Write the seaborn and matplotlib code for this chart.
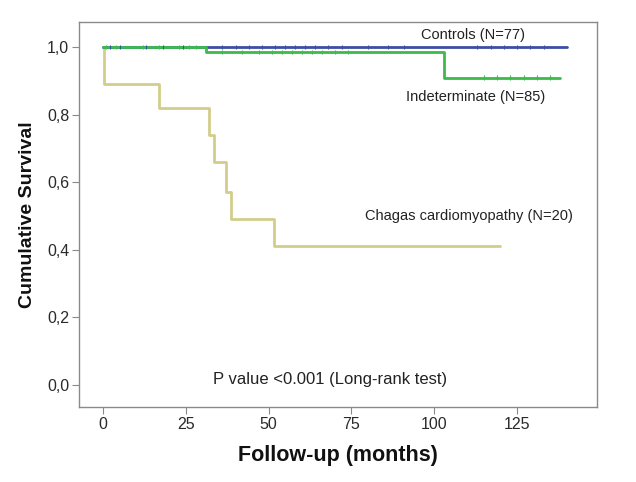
import numpy as np
import pandas as pd
import seaborn as sns
import matplotlib
matplotlib.use('Agg')
import matplotlib.pyplot as plt

# veriler
groups = ['Controls (N=77)', 'Indeterminate (N=85)', 'Chagas cardiomyopathy (N=20)']

ctrl_t = [0, 140]
ctrl_s = [1.0, 1.0]

indet_t = [0, 31, 103, 138]
indet_s = [1.0, 0.986, 0.91, 0.91]

chagas_t = [0, 0.4, 17, 32, 33.5, 37, 38.5, 51.5, 120]
chagas_s = [1.0, 0.89, 0.82, 0.74, 0.66, 0.57, 0.49, 0.41, 0.41]

# sansurlenmis gozlemler (ay)
ctrl_cens = [2, 5, 13, 18, 24, 36, 40, 44, 48, 52, 55, 58, 61, 64, 68, 72, 80, 86, 91,
             113, 117, 121, 125, 129, 133]
indet_cens = [1, 4, 12, 17, 23, 26, 28, 36, 42, 47, 51, 54, 57, 60, 63, 66, 70, 74,
              115, 119, 123, 127, 131, 135]

colors = ['#3d4ea6', '#3cba4c', '#d3cd8a']

df = pd.concat([
    pd.DataFrame({'t': ctrl_t, 's': ctrl_s, 'group': groups[0]}),
    pd.DataFrame({'t': indet_t, 's': indet_s, 'group': groups[1]}),
    pd.DataFrame({'t': chagas_t, 's': chagas_s, 'group': groups[2]}),
])


def step_value(times, surv, c):
    idx = np.searchsorted(times, c, side='right') - 1
    return np.array(surv)[idx]


cens = pd.concat([
    pd.DataFrame({'t': ctrl_cens, 's': step_value(ctrl_t, ctrl_s, ctrl_cens), 'group': groups[0]}),
    pd.DataFrame({'t': indet_cens, 's': step_value(indet_t, indet_s, indet_cens), 'group': groups[1]}),
])

sns.set_style('white')
plt.rcParams['font.family'] = ['Liberation Sans', 'DejaVu Sans']

fig = plt.figure(figsize=(6.36, 4.82), dpi=100)
ax = fig.add_axes([0.124, 0.156, 0.815, 0.798])

pal = dict(zip(groups, colors))
for g in [groups[2], groups[0], groups[1]]:
    sns.lineplot(data=df[df['group'] == g], x='t', y='s', color=pal[g],
                 drawstyle='steps-post', estimator=None, linewidth=2.0, ax=ax)
sns.scatterplot(data=cens, x='t', y='s', hue='group', palette=pal, marker='|',
                s=10, linewidth=0.8, legend=False, ax=ax, zorder=5)

ax.set_xlim(-7.3, 149.2)
ax.set_ylim(-0.065, 1.074)
ax.set_xticks([0, 25, 50, 75, 100, 125])
ax.set_yticks([0, 0.2, 0.4, 0.6, 0.8, 1.0])
ax.set_yticklabels([f'{v:.1f}'.replace('.', ',') for v in [0, 0.2, 0.4, 0.6, 0.8, 1.0]])
ax.tick_params(axis='both', which='major', direction='out', length=5, width=0.8, pad=2,
               colors='#8a8a8a', labelcolor='#2a2a2a', labelsize=11.5, left=True, bottom=True)
for sp in ax.spines.values():
    sp.set_color('#8a8a8a')
    sp.set_linewidth(1.0)

ax.set_xlabel('Follow-up (months)', fontsize=15.5, fontweight='bold', color='#111111', labelpad=10)
ax.set_ylabel('Cumulative Survival', fontsize=14, fontweight='bold', color='#111111', labelpad=8)

ax.text(111.7, 1.035, groups[0], ha='center', va='center', fontsize=10.5, color='#222222')
ax.text(112.6, 0.852, groups[1], ha='center', va='center', fontsize=10.5, color='#222222')
ax.text(110.5, 0.50, groups[2], ha='center', va='center', fontsize=10.5, color='#222222')
ax.text(68.4, 0.015, 'P value <0.001 (Long-rank test)', ha='center', va='center',
        fontsize=12, color='#222222')

fig.savefig('out.png', dpi=100)
